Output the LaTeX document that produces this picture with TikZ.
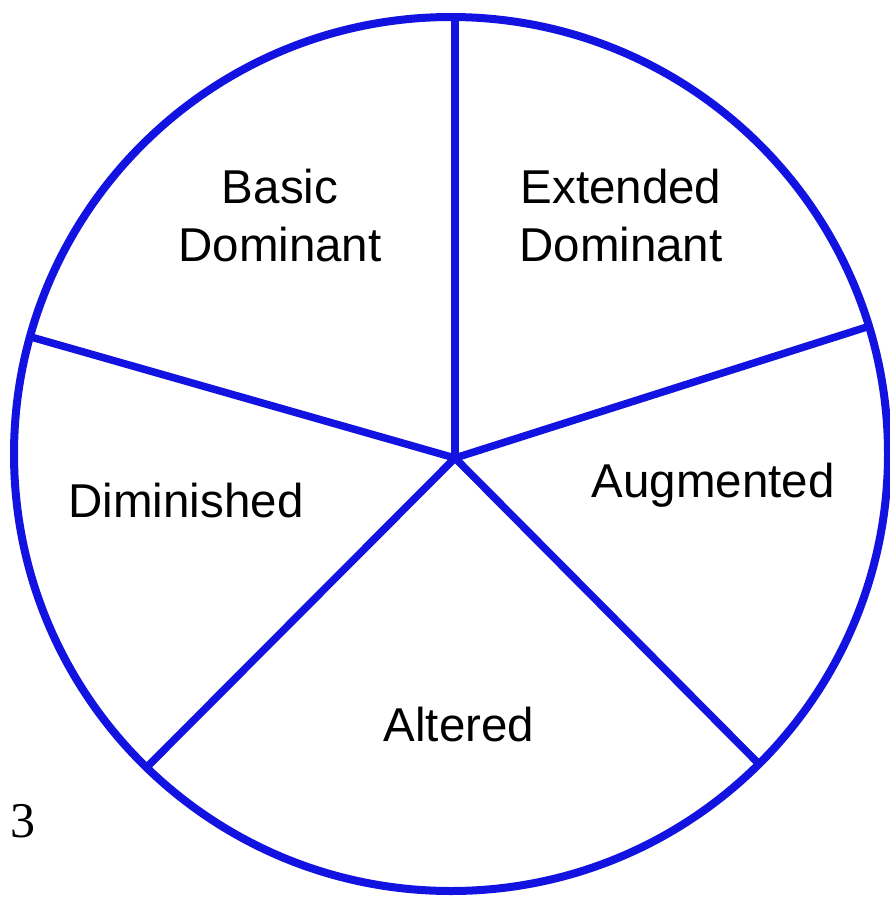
\documentclass[tikz,border=0pt]{standalone}
\usepackage{fontspec}
\setmainfont{Liberation Sans}
\newfontfamily\digitfont{Liberation Serif}
\definecolor{wheelblue}{RGB}{18,18,225}
\begin{document}
\begin{tikzpicture}[x=1pt,y=-1pt,
  rim/.style={draw=wheelblue,line width=8pt},
  spoke/.style={draw=wheelblue,line width=7.5pt},
  lab/.style={font=\fontsize{47.5}{58}\selectfont,align=center,text=black,inner sep=0pt}]
\useasboundingbox (0,0) rectangle (889,897);
\coordinate (O) at (451,454);
\coordinate (hub) at (455,458);
\coordinate (ptop) at (455,17);
\coordinate (pright) at (870,326);
\coordinate (pleft) at (31,337);
\coordinate (pbl) at (147,767);
\coordinate (pbr) at (760,765);
\draw[rim] (O) circle[radius=437];
\draw[spoke] (hub) -- (ptop);
\draw[spoke] (hub) -- (pright);
\draw[spoke] (hub) -- (pleft);
\draw[spoke] (hub) -- (pbl);
\draw[spoke] (hub) -- (pbr);
\node[lab] (basic) at (280,216) {Basic\\Dominant};
\node[lab] (ext) at (621,216) {Extended\\Dominant};
\node[lab] (aug) at (713,485) {Augmented};
\node[lab] (dim) at (186,501) {Diminished};
\node[lab] (alt) at (459,725) {Altered};
\node[font=\digitfont\fontsize{50}{50}\selectfont,inner sep=0pt] (num) at (23,821) {3};
\end{tikzpicture}
\end{document}
